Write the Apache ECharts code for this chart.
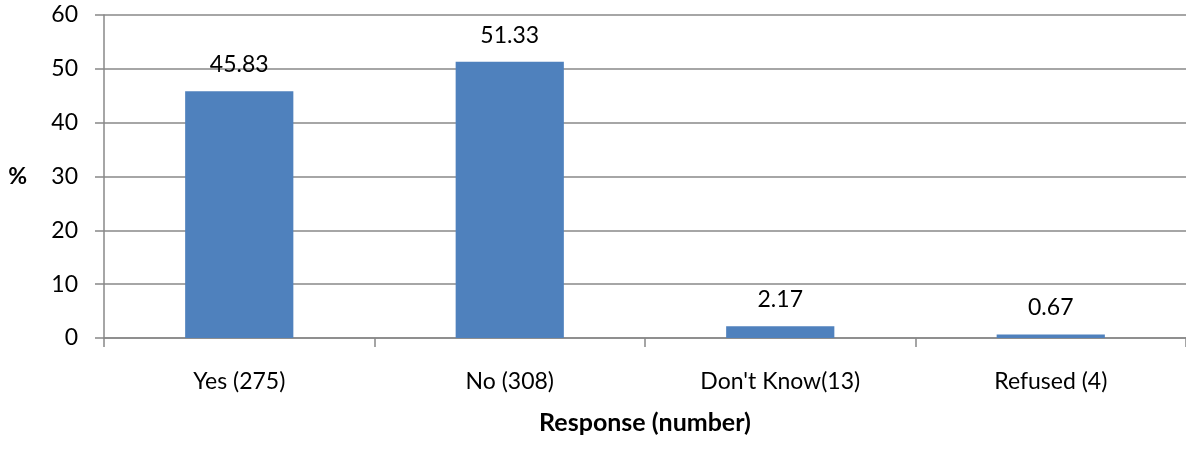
<!DOCTYPE html>
<html>
<head>
<meta charset="utf-8">
<script src="https://cdn.jsdelivr.net/npm/echarts@6/dist/echarts.min.js"></script>
<style>
  html, body { margin: 0; padding: 0; background: #ffffff; }
  #chart { width: 1186px; height: 450px; }
</style>
</head>
<body>
<div id="chart"></div>
<script>
// Survey responses: share of respondents (%) per answer, with counts in the labels
var categories = ["Yes (275)", "No (308)", "Don't Know(13)", "Refused (4)"];
var percentages = [45.83, 51.33, 2.17, 0.67];
var yTicks = { min: 0, max: 60, interval: 10 };

var font = "Lato, 'Liberation Sans', sans-serif";
var chart = echarts.init(document.getElementById('chart'), null, { renderer: 'canvas' });

chart.setOption({
  animation: false,
  grid: { left: 104, right: 0, top: 15, bottom: 112, containLabel: false },
  xAxis: {
    type: 'category',
    data: categories,
    name: 'Response (number)',
    nameLocation: 'middle',
    nameGap: 72,
    nameTextStyle: { fontFamily: font, fontSize: 25, fontWeight: 'bold', color: '#000' },
    axisLine: { lineStyle: { color: '#888888', width: 1.5 } },
    axisTick: { show: true, length: 9, alignWithLabel: false, lineStyle: { color: '#888888', width: 1.5 } },
    axisLabel: { margin: 32, fontFamily: font, fontSize: 23, color: '#000' }
  },
  yAxis: {
    type: 'value',
    min: yTicks.min,
    max: yTicks.max,
    interval: yTicks.interval,
    name: '%',
    nameLocation: 'middle',
    nameGap: 77,
    nameRotate: 0,
    nameTextStyle: { fontFamily: font, fontSize: 23, fontWeight: 'bold', color: '#000' },
    axisLine: { show: true, lineStyle: { color: '#888888', width: 1.5 } },
    axisTick: { show: true, length: 9, lineStyle: { color: '#888888', width: 1.5 } },
    axisLabel: { margin: 26, fontFamily: font, fontSize: 23, color: '#000' },
    splitLine: { show: true, lineStyle: { color: '#888888', width: 1.5 } }
  },
  series: [{
    type: 'bar',
    data: percentages,
    barWidth: '40%',
    itemStyle: { color: '#4F81BD' },
    label: {
      show: true,
      position: 'top',
      distance: 15,
      fontFamily: font,
      fontSize: 23,
      color: '#000',
      formatter: function (p) { return p.value.toFixed(2); }
    }
  }]
});
</script>
</body>
</html>
